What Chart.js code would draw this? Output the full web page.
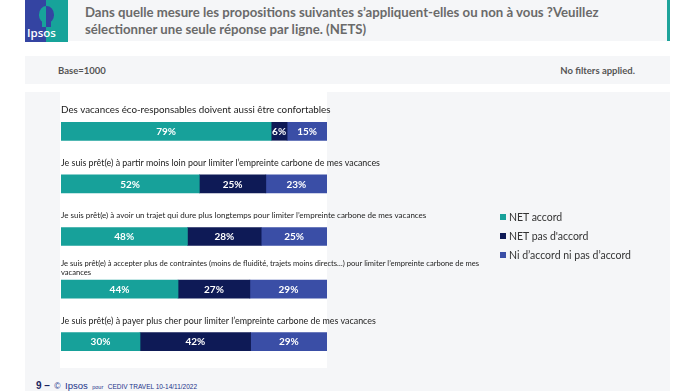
<!DOCTYPE html>
<html lang="fr">
<head>
<meta charset="utf-8">
<script src="https://cdn.jsdelivr.net/npm/chart.js@4.4.0/dist/chart.umd.min.js"></script>
<style>
  html, body { margin: 0; padding: 0; }
  body { width: 695px; height: 391px; background: #fff; position: relative; overflow: hidden; font-family: Lato, "Open Sans", sans-serif; }
  .abs { position: absolute; }
  .gris { background: #f5f6f8; }
  #logo { left: 25px; top: 0; width: 43px; height: 42px; background: linear-gradient(90deg, #3444a2 0 50%, #17a39a 50% 100%); overflow: hidden; }
  #logo .tete { position: absolute; left: 14px; top: 6px; width: 15px; height: 17px; border-radius: 50% 50% 45% 45%; background: linear-gradient(90deg, #17a39a 0 50%, #3444a2 50% 100%); }
  #logo .cou { position: absolute; left: 17px; top: 20px; width: 9px; height: 7px; background: linear-gradient(90deg, #17a39a 0 50%, #3444a2 50% 100%); }
  #logo span { position: absolute; left: 2px; bottom: 2px; color: #fff; font: 600 11.5px "Open Sans", sans-serif; }
  #titre { left: 68px; top: 0; width: 599px; height: 41px; border-right: 3px solid #1fa39b; }
  #titre div { position: absolute; left: 17px; top: 4px; font-weight: 700; font-size: 13.2px; line-height: 17px; color: #6a6a6a; white-space: nowrap; }
  #base { left: 25px; top: 56px; width: 645px; height: 28px; font-size: 9.5px; font-weight: 700; color: #555; }
  #base .g { position: absolute; left: 33px; top: 9px; }
  #base .d { position: absolute; right: 35px; top: 9px; }
  #panneau { left: 25px; top: 92px; width: 645px; height: 299px; }
  #blanc { left: 60px; top: 92px; width: 267px; height: 276px; background: #fff; }
  #graph { left: 55px; top: 92px; width: 470px; height: 276px; }
  #legende { left: 500px; top: 211px; font-size: 10.5px; color: #333; }
  #legende div { height: 19px; white-space: nowrap; }
  #legende i { display: inline-block; width: 6px; height: 6px; margin-right: 3px; vertical-align: 1px; }
  #pied { left: 36px; top: 375px; white-space: nowrap; color: #22338a; font-family: "Liberation Sans", Arial, sans-serif; }
  #pied b { color: #1b2660; font-size: 10px; }
</style>
</head>
<body>
<div class="abs gris" id="titre"><div>Dans quelle mesure les propositions suivantes s’appliquent-elles ou non à vous ?Veuillez<br>sélectionner une seule réponse par ligne. (NETS)</div></div>
<div class="abs" id="logo"><div class="tete"></div><div class="cou"></div><span>Ipsos</span></div>
<div class="abs gris" id="base"><span class="g">Base=1000</span><span class="d">No filters applied.</span></div>
<div class="abs gris" id="panneau"></div>
<div class="abs" id="blanc"></div>
<div class="abs" id="graph"><canvas id="c" width="470" height="276"></canvas></div>
<div class="abs" id="legende"></div>
<div class="abs" id="pied"><b>9 –</b> <span style="font-size:8.5px">©</span> <span style="font-size:9.5px">Ipsos</span> <span style="font-size:5.5px">pour</span> <span style="font-size:6.5px">CEDIV TRAVEL 10-14/11/2022</span></div>

<script>
// ---- données ----
const propositions = [
  ["Des vacances éco-responsables doivent aussi être confortables"],
  ["Je suis prêt(e) à partir moins loin pour limiter l’empreinte carbone de mes vacances"],
  ["Je suis prêt(e) à avoir un trajet qui dure plus longtemps pour limiter l’empreinte carbone de mes vacances"],
  ["Je suis prêt(e) à accepter plus de contraintes (moins de fluidité, trajets moins directs…) pour limiter l’empreinte carbone de mes", "vacances"],
  ["Je suis prêt(e) à payer plus cher pour limiter l’empreinte carbone de mes vacances"]
];
const seriesNoms = ["NET accord", "NET pas d'accord", "Ni d’accord ni pas d’accord"];
const netAccord = [79, 52, 48, 44, 30];
const netPasAccord = [6, 25, 28, 27, 42];
const niNi = [15, 23, 25, 29, 29];

// styles
const couleurs = ["#17a19a", "#0e1a56", "#3a4ea6"];
const taillesLibelles = [9.8, 8.9, 8, 7.6, 8.9];

document.addEventListener('DOMContentLoaded', () => {
  const valeurs = [netAccord, netPasAccord, niNi];
  // les barres sont ramenées à 100 % (certaines lignes font 101)
  const totaux = netAccord.map((v, i) => v + netPasAccord[i] + niNi[i]);

  // légende
  const leg = document.getElementById('legende');
  seriesNoms.forEach((n, i) => {
    const d = document.createElement('div');
    d.innerHTML = `<i style="background:${couleurs[i]}"></i>${n}`;
    leg.appendChild(d);
  });

  const libelles = {
    id: 'libelles',
    afterDatasetsDraw(chart) {
      const ctx = chart.ctx;
      const meta = chart.getDatasetMeta(0);
      ctx.save();
      ctx.fillStyle = '#222';
      ctx.textAlign = 'left';
      ctx.textBaseline = 'middle';
      meta.data.forEach((bar, i) => {
        const lignes = propositions[i];
        const t = taillesLibelles[i];
        const h = t * 1.15;
        ctx.font = `${t}px Lato, "Open Sans", sans-serif`;
        const y0 = bar.y - 21 - (lignes.length - 1) * h / 2;
        lignes.forEach((l, k) => ctx.fillText(l, chart.chartArea.left, y0 + k * h));
      });
      // valeurs dans les barres
      ctx.fillStyle = '#fff';
      ctx.textAlign = 'center';
      ctx.font = 'bold 10px Lato, "Open Sans", sans-serif';
      chart.data.datasets.forEach((ds, di) => {
        chart.getDatasetMeta(di).data.forEach((bar, i) => {
          ctx.fillText(valeurs[di][i] + '%', (bar.x + bar.base) / 2, bar.y + 0.5);
        });
      });
      ctx.restore();
    }
  };

  new Chart(document.getElementById('c'), {
    type: 'bar',
    data: {
      labels: propositions.map(p => p.join(' ')),
      datasets: valeurs.map((serie, di) => ({
        label: seriesNoms[di],
        data: serie.map((v, i) => v / totaux[i] * 100),
        backgroundColor: couleurs[di],
        borderWidth: 0,
        barThickness: 18
      }))
    },
    options: {
      indexAxis: 'y',
      responsive: false,
      animation: false,
      layout: { padding: { left: 6, right: 198, top: 13, bottom: 0 } },
      scales: {
        x: { stacked: true, min: 0, max: 100, display: false },
        y: { stacked: true, display: false }
      },
      plugins: { legend: { display: false }, tooltip: { enabled: false } }
    },
    plugins: [libelles]
  });
});
</script>
</body>
</html>
